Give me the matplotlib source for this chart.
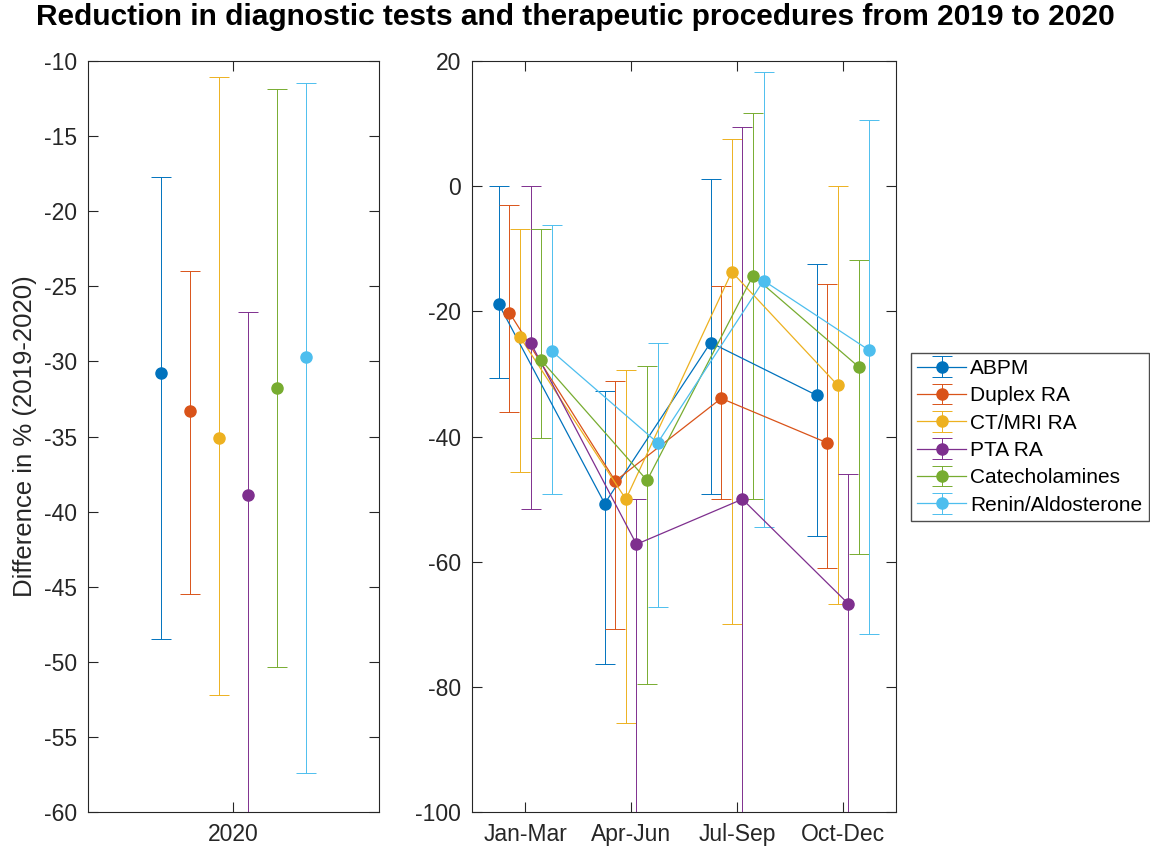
import numpy as np
import matplotlib
matplotlib.use('Agg')
import matplotlib.pyplot as plt

plt.rcParams['font.family'] = ['Liberation Sans', 'DejaVu Sans']
plt.rcParams['axes.unicode_minus'] = False

series = ['ABPM', 'Duplex RA', 'CT/MRI RA', 'PTA RA', 'Catecholamines', 'Renin/Aldosterone']
colors = ['#0072BD', '#D95319', '#EDB120', '#7E2F8E', '#77AC30', '#4DBEEE']
quarters = ['Jan-Mar', 'Apr-Jun', 'Jul-Sep', 'Oct-Dec']

# whole year 2020: mean, upper bound, lower bound
year_mean = [-30.8, -33.3, -35.1, -38.9, -31.75, -29.7]
year_hi = [-17.7, -24.0, -11.1, -26.7, -11.9, -11.5]
year_lo = [-48.45, -45.5, -52.2, -65.0, -50.3, -57.4]

# per quarter
q_mean = {
    'ABPM':              [-18.85, -50.7, -25.0, -33.4],
    'Duplex RA':         [-20.2, -47.1, -33.9, -41.0],
    'CT/MRI RA':         [-24.1, -50.0, -13.7, -31.8],
    'PTA RA':            [-25.0, -57.2, -50.0, -66.7],
    'Catecholamines':    [-27.8, -47.0, -14.3, -28.9],
    'Renin/Aldosterone': [-26.35, -41.0, -15.1, -26.25],
}
q_hi = {
    'ABPM':              [0.0, -32.7, 1.2, -12.5],
    'Duplex RA':         [-3.0, -31.2, -15.9, -15.7],
    'CT/MRI RA':         [-6.8, -29.4, 7.5, 0.0],
    'PTA RA':            [0.0, -50.0, 9.4, -45.9],
    'Catecholamines':    [-6.8, -28.8, 11.6, -11.8],
    'Renin/Aldosterone': [-6.2, -25.0, 18.25, 10.6],
}
q_lo = {
    'ABPM':              [-30.6, -76.3, -49.1, -55.8],
    'Duplex RA':         [-36.0, -70.7, -50.0, -61.0],
    'CT/MRI RA':         [-45.6, -85.7, -70.0, -66.7],
    'PTA RA':            [-51.6, -110.0, -110.0, -110.0],
    'Catecholamines':    [-40.2, -79.5, -50.0, -58.7],
    'Renin/Aldosterone': [-49.1, -67.2, -54.5, -71.5],
}

offsets = np.array([-0.25, -0.15, -0.05, 0.05, 0.15, 0.25])
dark = '#262626'
fs = 16.5

fig = plt.figure(figsize=(11.5, 8.52), dpi=100)
ax1 = fig.add_axes([0.0765, 0.0466, 0.253, 0.882])
ax2 = fig.add_axes([0.4107, 0.0466, 0.3684, 0.882])

err_kw = dict(fmt='o', markersize=8, capsize=7, elinewidth=0.7, capthick=0.7)

# left: full year
for i, name in enumerate(series):
    m = year_mean[i]
    yerr = [[m - year_lo[i]], [year_hi[i] - m]]
    ax1.errorbar([1 + offsets[i]], [m], yerr=yerr, color=colors[i], **err_kw)
ax1.set_xlim(0.5, 1.5)
ax1.set_ylim(-60, -10)
ax1.set_xticks([1])
ax1.set_xticklabels(['2020'])
ax1.set_yticks(np.arange(-60, -9, 5))
ax1.set_ylabel('Difference in % (2019-2020)', fontsize=18.5, color=dark, labelpad=5)

# right: per quarter
x = np.arange(1, len(quarters) + 1)
handles = []
for i, name in enumerate(series):
    m = np.array(q_mean[name])
    yerr = [m - np.array(q_lo[name]), np.array(q_hi[name]) - m]
    h = ax2.errorbar(x + offsets[i], m, yerr=yerr, color=colors[i],
                     fmt='-o', markersize=8, capsize=7, elinewidth=0.7,
                     capthick=0.7, linewidth=0.9, label=name)
    handles.append(h)
ax2.set_xlim(0.5, 4.5)
ax2.set_ylim(-100, 20)
ax2.set_xticks(x)
ax2.set_xticklabels(quarters)
ax2.set_yticks(np.arange(-100, 21, 20))

for ax in (ax1, ax2):
    ax.tick_params(direction='in', length=7, width=0.8, colors=dark,
                   labelsize=fs, top=True, right=True, pad=8)
    for sp in ax.spines.values():
        sp.set_color(dark)
        sp.set_linewidth(0.8)

fig.legend(handles=handles, labels=series, loc='upper left',
           bbox_to_anchor=(0.792, 0.586), borderaxespad=0, fontsize=15,
           fancybox=False, framealpha=1, edgecolor='#4d4d4d',
           handlelength=2.35, handletextpad=0.2, labelspacing=0.4,
           borderpad=0.3)

fig.suptitle('Reduction in diagnostic tests and therapeutic procedures from 2019 to 2020',
             fontsize=21.5, fontweight='bold', y=0.997)

fig.savefig('out.png', dpi=100)
